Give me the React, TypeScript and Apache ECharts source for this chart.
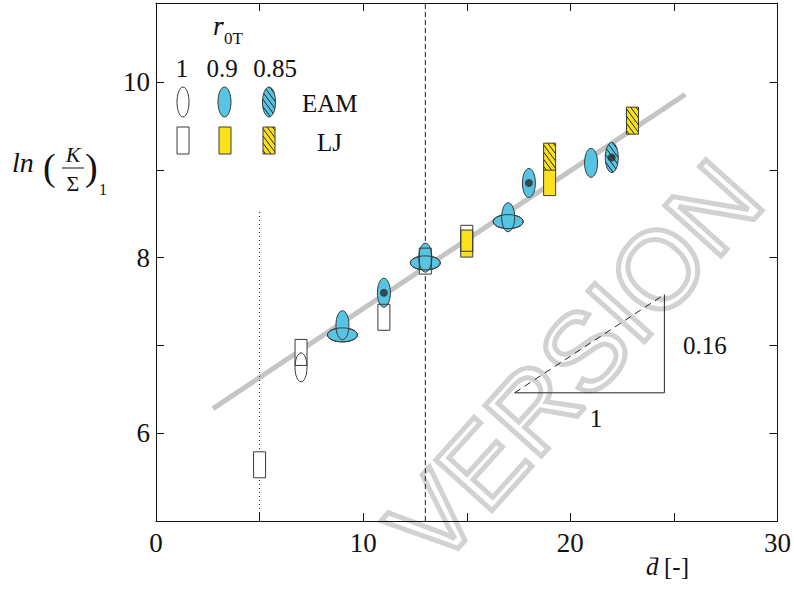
import React, { useEffect, useRef } from "react";
import * as echarts from "echarts";

// ---------- data ----------
const xTickLabels = [0, 10, 20, 30];
const yTickLabels = [6, 8, 10];

// EAM (ellipses)
const eamWhite = [[7, 6.75]];
const eamBlue = [[9, 7.23], [11, 7.6], [13, 8.0], [17, 8.46], [18, 8.85], [21, 9.08]];
const eamBlueWide = [[9, 7.12], [13, 7.94], [17, 8.41]];
const eamHatched = [[22, 9.14]];
const eamDots = [[11, 7.6], [18, 8.85], [22, 9.14]];
// LJ (rectangles)
const ljWhite = [[5, 5.64], [7, 6.92], [11, 7.32], [13, 7.96], [15, 8.22]];
const ljYellow = [[15, 8.16], [19, 8.86]];
const ljHatched = [[19, 9.15], [23, 9.56]];

const fitLine = [[2.75, 6.28], [25.55, 9.86]];
const dottedLine = [[5, 5], [5, 8.55]];
const dashedLine = [[13, 5], [13, 10.9]];
const triangleLegs = [[17.31, 6.46], [24.54, 6.46], [24.54, 7.58]];
const triangleHyp = [[17.31, 6.46], [24.54, 7.58]];

// ---------- styles ----------
const SERIF = "Liberation Serif";
const BLUE = "#57c4e4";
const YELLOW = "#fbe11a";
const EDGE = "#3a3a3a";

function hatchLines(kind: string, cx: number, cy: number, a: number, b: number) {
  const k = 1.35;
  const step = 4.3 * Math.sqrt(1 + k * k);
  const cmax = k * a + b;
  const out: any[] = [];
  for (let c = -cmax + step / 2; c < cmax; c += step) {
    let u1: number, u2: number;
    if (kind === "rect") {
      u1 = Math.max(-a, (c - b) / k);
      u2 = Math.min(a, (c + b) / k);
      if (u2 <= u1) continue;
    } else {
      const A = 1 / (a * a) + (k * k) / (b * b);
      const B = (-2 * k * c) / (b * b);
      const C = (c * c) / (b * b) - 1;
      const D = B * B - 4 * A * C;
      if (D <= 0) continue;
      u1 = (-B - Math.sqrt(D)) / (2 * A);
      u2 = (-B + Math.sqrt(D)) / (2 * A);
    }
    out.push({
      type: "line",
      shape: { x1: cx + u1, y1: cy + k * u1 - c, x2: cx + u2, y2: cy + k * u2 - c },
      style: { stroke: "#222", lineWidth: 1 },
    });
  }
  return out;
}

function shapeEls(kind: string, cx: number, cy: number, a: number, b: number, fill: string, hatch: boolean, mode = "both") {
  const els: any[] = [];
  const shape =
    kind === "rect"
      ? { x: cx - a, y: cy - b, width: 2 * a, height: 2 * b }
      : { cx, cy, rx: a, ry: b };
  const type = kind === "rect" ? "rect" : "ellipse";
  if (mode !== "outline") {
    els.push({ type, shape, style: { fill, stroke: "none" } });
    if (hatch) els.push(...hatchLines(kind, cx, cy, a, b));
  }
  if (mode !== "fill") els.push({ type, shape, style: { fill: "none", stroke: EDGE, lineWidth: 1 } });
  return els;
}

function markerSeries(data: number[][], kind: string, a: number, b: number, fill: string, hatch: boolean, mode = "both", z = 5) {
  return {
    type: "custom",
    coordinateSystem: "cartesian2d",
    xAxisIndex: 0,
    yAxisIndex: 0,
    data,
    z,
    silent: true,
    renderItem: (params: any, api: any) => {
      const p = api.coord([api.value(0), api.value(1)]);
      return { type: "group", children: shapeEls(kind, p[0], p[1], a, b, fill, hatch, mode) };
    },
  };
}

function lineSeries(data: number[][], color: string, width: number, type: any, z = 3) {
  return {
    type: "line",
    data,
    symbol: "none",
    silent: true,
    z,
    lineStyle: { color, width, type },
  };
}

function txt(text: string, x: number, y: number, size: number, opts: any = {}) {
  return {
    type: "text",
    x,
    y,
    z: 20,
    style: {
      text,
      fontFamily: SERIF,
      fontSize: size,
      fontStyle: opts.italic ? "italic" : "normal",
      fill: "#111",
      align: opts.align || "left",
      verticalAlign: opts.va || "middle",
    },
  };
}

function ln(x1: number, y1: number, x2: number, y2: number) {
  return { type: "line", z: 20, shape: { x1, y1, x2, y2 }, style: { stroke: "#111", lineWidth: 1 } };
}

export default function App() {
  const ref = useRef<HTMLDivElement>(null);
  useEffect(() => {
    if (!ref.current) return;
    const chart = echarts.init(ref.current, null, { renderer: "svg" });

    const axisCommon = {
      axisLine: { show: true, onZero: false, lineStyle: { color: "#111", width: 1 } },
      axisTick: { show: true, inside: true, length: 8, lineStyle: { color: "#111" } },
      splitLine: { show: false },
    };

    const legendEls: any[] = [
      txt("r", 213, 39, 27, { italic: true, va: "bottom" }),
      ln(216, 23, 224, 23),
      txt("0T", 224, 47, 17, { va: "bottom" }),
      txt("1", 182, 68, 25, { align: "center" }),
      txt("0.9", 222, 68, 25, { align: "center" }),
      txt("0.85", 275, 68, 25, { align: "center" }),
      txt("EAM", 302, 103, 25),
      txt("LJ", 317, 142, 25),
      ...shapeEls("ellipse", 183, 102, 6, 15, "none", false),
      ...shapeEls("ellipse", 224.5, 102, 6.5, 15, BLUE, false),
      ...shapeEls("ellipse", 269, 102, 6.5, 15, BLUE, true),
      ...shapeEls("rect", 183, 140.5, 6, 13.5, "#fff", false),
      ...shapeEls("rect", 225, 140.5, 6, 13.5, YELLOW, false),
      ...shapeEls("rect", 269, 140.5, 6, 13.5, YELLOW, true),
    ].map((e) => ({ ...e, z: 20 }));

    const labelEls: any[] = [
      // y-axis title
      txt("ln", 12, 162, 28, { italic: true }),
      txt("(", 43, 167, 38),
      txt("K", 73, 154, 22, { italic: true, align: "center" }),
      ln(62, 168, 84, 168),
      txt("Σ", 73, 183, 22, { align: "center" }),
      txt(")", 85, 167, 38),
      txt("1", 99, 189, 16),
      // x-axis title
      txt("d", 646, 579, 25, { italic: true, va: "bottom" }),
      ln(650, 558, 658, 558),
      txt("[-]", 664, 579, 25, { va: "bottom" }),
      // slope triangle
      txt("0.16", 683, 345, 25),
      txt("1", 596, 418, 25, { align: "center" }),
    ];

    const watermark = {
      type: "text",
      x: 574,
      y: 362,
      rotation: (48 * Math.PI) / 180,
      z: -5,
      silent: true,
      style: {
        text: "VERSION",
        fontFamily: "Liberation Sans",
        fontSize: 110,
        lineHeight: 88,
        fill: "none",
        stroke: "#d2d2d2",
        lineWidth: 5,
        align: "center",
        verticalAlign: "middle",
      },
    };

    const labelFont = { fontFamily: SERIF, fontSize: 27, color: "#111" };

    const option: any = {
      animation: false,
      backgroundColor: "#fff",
      textStyle: { fontFamily: SERIF },
      grid: { left: 156, top: 3, width: 622, height: 518, containLabel: false },
      xAxis: [
        {
          type: "value",
          min: 0,
          max: 30,
          interval: 5,
          position: "bottom",
          ...axisCommon,
          axisLabel: {
            margin: 8,
            ...labelFont,
            formatter: (v: number) => (xTickLabels.includes(v) ? String(v) : ""),
          },
        },
        {
          type: "value",
          min: 0,
          max: 30,
          interval: 5,
          position: "top",
          ...axisCommon,
          axisLabel: { show: false },
        },
      ],
      yAxis: [
        {
          type: "value",
          min: 5,
          max: 10.9,
          interval: 1,
          position: "left",
          ...axisCommon,
          axisLabel: {
            margin: 6,
            ...labelFont,
            showMaxLabel: false,
            formatter: (v: number) => (yTickLabels.includes(v) ? String(v) : ""),
          },
        },
        {
          type: "value",
          min: 5,
          max: 10.9,
          interval: 1,
          position: "right",
          ...axisCommon,
          axisLabel: { show: false },
        },
      ],
      graphic: [watermark, ...legendEls, ...labelEls],
      series: [
        lineSeries(fitLine, "#c4c4c4", 5, "solid", 2),
        lineSeries(dottedLine, "#222", 1, [1, 3], 3),
        lineSeries(dashedLine, "#222", 1, [5, 3], 3),
        lineSeries(triangleLegs, "#222", 1, "solid", 3),
        lineSeries(triangleHyp, "#222", 1, [7, 5], 3),
        markerSeries(ljWhite, "rect", 6, 13, "#fff", false, "fill", 4),
        markerSeries(eamBlueWide, "ellipse", 15, 7, BLUE, false, "both", 4),
        markerSeries(eamBlue, "ellipse", 6.5, 14.5, BLUE, false, "both", 5),
        markerSeries(eamHatched, "ellipse", 6.5, 15, BLUE, true, "both", 5),
        markerSeries(eamBlueWide, "ellipse", 15, 7, BLUE, false, "outline", 6),
        markerSeries(ljYellow, "rect", 6, 13.5, YELLOW, false, "both", 6),
        markerSeries(ljHatched, "rect", 6, 13.5, YELLOW, true, "both", 6),
        markerSeries(eamWhite, "ellipse", 6, 14.5, "none", false, "both", 7),
        markerSeries(ljWhite, "rect", 6, 13, "none", false, "outline", 7),
        {
          type: "scatter",
          data: eamDots,
          symbol: "circle",
          symbolSize: 8,
          silent: true,
          z: 8,
          itemStyle: { color: "#2a2a2a" },
        },
      ],
    };

    chart.setOption(option);
    return () => chart.dispose();
  }, []);

  return <div ref={ref} style={{ width: 794, height: 596, position: "absolute", left: 0, top: 0 }} />;
}
